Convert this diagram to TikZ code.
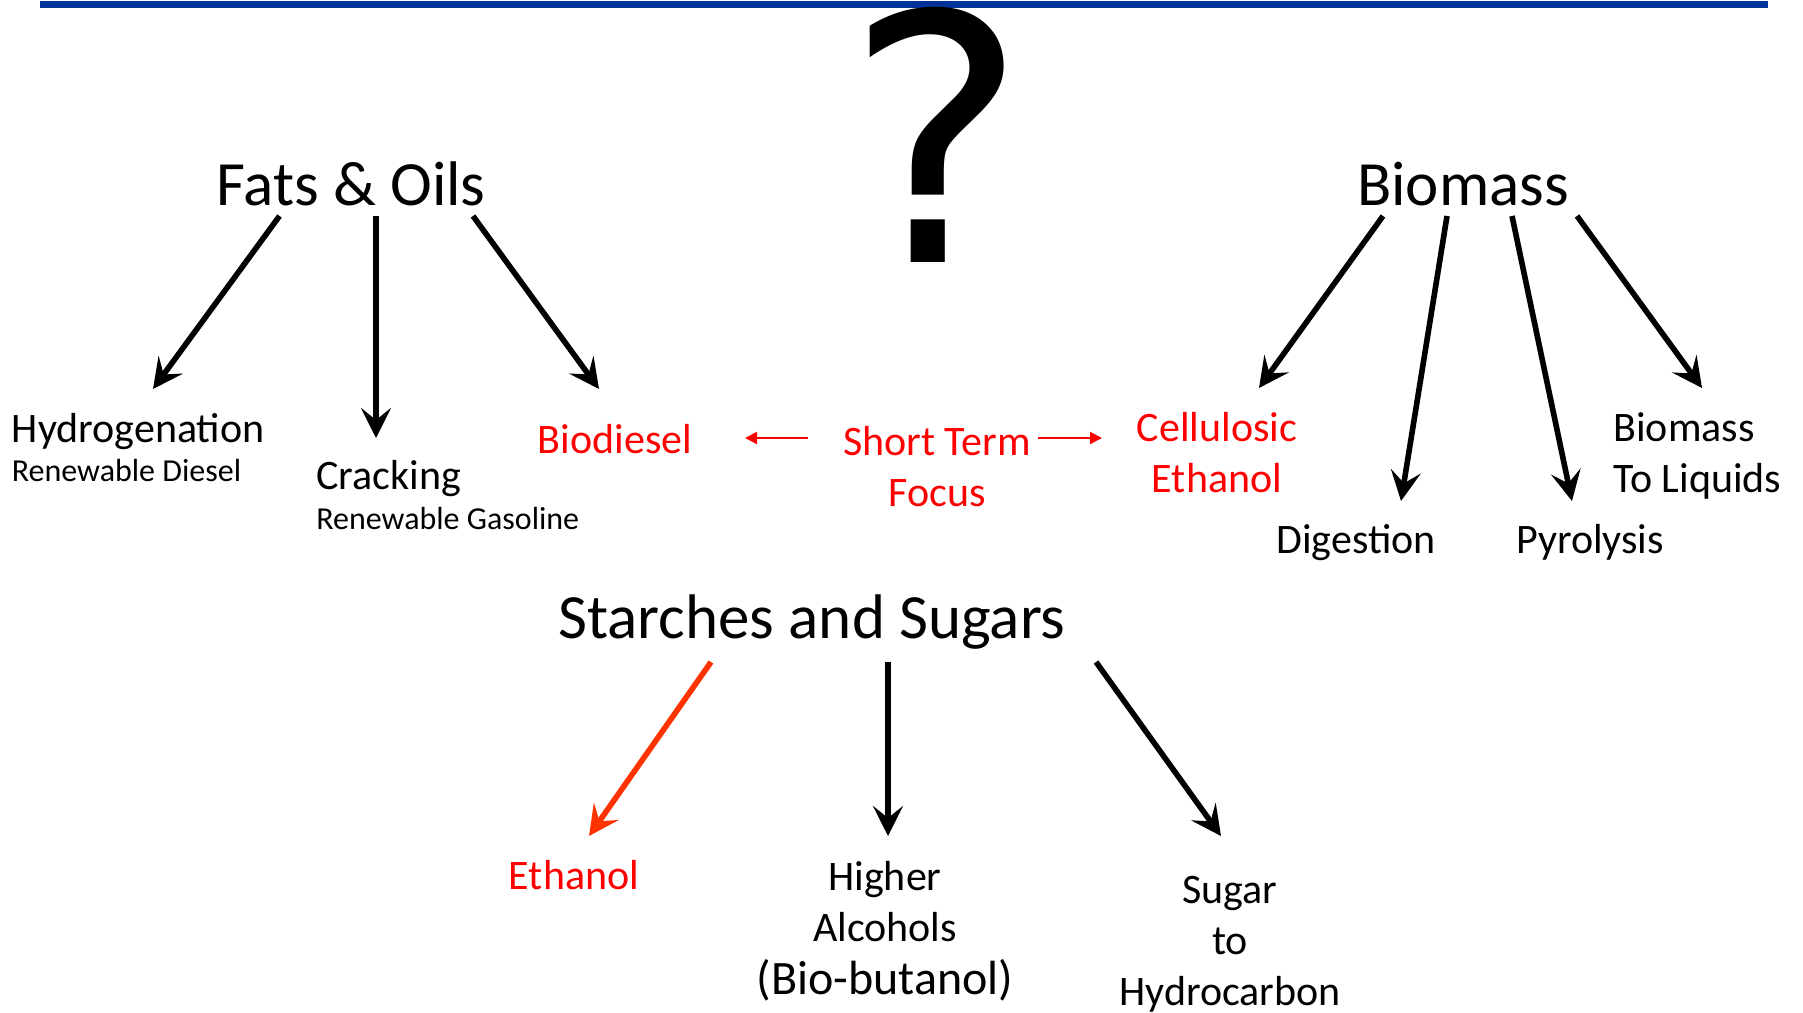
\documentclass[tikz,border=0pt]{standalone}
\usepackage{fontspec}
\setmainfont{Carlito}
\newfontfamily\qfont{DejaVu Sans}
\usetikzlibrary{arrows.meta}
\definecolor{ruleblue}{RGB}{0,51,153}
\definecolor{focusred}{RGB}{255,0,0}
\definecolor{starchred}{RGB}{255,51,0}

\begin{document}
\begin{tikzpicture}[x=0.5pt,y=-0.5pt,
	big/.style={font=\fontsize{31.5}{38}\selectfont,anchor=base,inner sep=0},
	mid/.style={font=\fontsize{21}{25.3}\selectfont,anchor=base,align=center,inner sep=0},
	midleft/.style={font=\fontsize{21}{25.3}\selectfont,anchor=base west,align=left,inner sep=0},
	small/.style={font=\fontsize{16}{19}\selectfont,anchor=base west,inner sep=0},
	flow/.style={line width=2.8pt,-{Stealth[length=15pt,width=15pt,inset=6pt]}},
	focus/.style={line width=1pt,focusred,-{Triangle[length=6pt,width=6pt]}}]
\useasboundingbox (0,0) rectangle (1803,1012);
\draw[ruleblue,line width=3.5pt] (40,4.5) -- (1768,4.5);
\node[font=\qfont\fontsize{172}{172}\selectfont,anchor=base,inner sep=0] (qmark) at (937,262) {?};

% sources
\node[big] (fats) at (351,205) {Fats \& Oils};
\node[big] (biomass) at (1463,205) {Biomass};
\node[big] (starch) at (812,638) {Starches and Sugars};

% fats & oils
\node[midleft] (hydro) at (11.5,442) {Hydrogenation};
\node[small] (rdiesel) at (11.5,481) {Renewable Diesel};
\node[midleft] (crack) at (316,489) {Cracking};
\node[small] (rgas) at (316,529) {Renewable Gasoline};
\node[mid,focusred] (biodiesel) at (615,453) {Biodiesel};

% short term (base = last line)
\node[mid,focusred] (short) at (937,506) {Short Term\\Focus};

% biomass
\node[mid,focusred] (cell) at (1217,492) {Cellulosic\\Ethanol};
\node[mid] (digest) at (1356,553) {Digestion};
\node[mid] (pyro) at (1590,553) {Pyrolysis};
\node[midleft] (btl) at (1613,492) {Biomass\\To Liquids};

% starches and sugars
\node[mid,focusred] (ethanol) at (574,889) {Ethanol};
\node[mid] (higher) at (885,994) {Higher\\Alcohols\\[1pt]\fontsize{24}{28}\selectfont (Bio-butanol)};
\node[mid] (sugar) at (1230,1005) {Sugar\\to\\Hydrocarbon};

% arrow ends
\coordinate (f1) at (279.5,216); \coordinate (f1e) at (153,389);
\coordinate (f2) at (376,216);   \coordinate (f2e) at (376,438);
\coordinate (f3) at (473,216);   \coordinate (f3e) at (599,389);
\coordinate (b1) at (1383,216);  \coordinate (b1e) at (1259,388);
\coordinate (b2) at (1447,216);  \coordinate (b2e) at (1401,501);
\coordinate (b3) at (1512,216);  \coordinate (b3e) at (1572,501);
\coordinate (b4) at (1577,216);  \coordinate (b4e) at (1702,388);
\coordinate (s1) at (711,662);   \coordinate (s1e) at (589,836);
\coordinate (s2) at (888,662);   \coordinate (s2e) at (888,836);
\coordinate (s3) at (1096,662);  \coordinate (s3e) at (1221,836);
\coordinate (l1) at (808,438);   \coordinate (l1e) at (745,438);
\coordinate (r1) at (1038,438);  \coordinate (r1e) at (1102,438);

\foreach \a in {f1,f2,f3,b1,b2,b3,b4,s2,s3}
	\draw[flow] (\a) -- (\a e);
\draw[flow,starchred] (s1) -- (s1e);
\draw[focus] (l1) -- (l1e);
\draw[focus] (r1) -- (r1e);
\end{tikzpicture}
\end{document}
